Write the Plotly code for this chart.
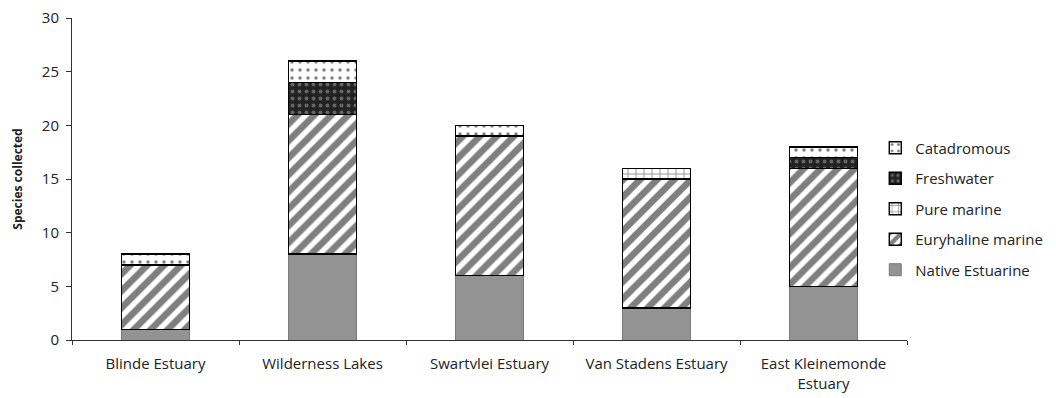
import plotly.graph_objects as go

categories = ["Blinde Estuary", "Wilderness Lakes", "Swartvlei Estuary",
              "Van Stadens Estuary", "East Kleinemonde<br>Estuary"]
native_estuarine = [1, 8, 6, 3, 5]
euryhaline_marine = [6, 13, 13, 12, 11]
pure_marine = [0, 0, 0, 1, 0]
freshwater = [0, 3, 0, 0, 1]
catadromous = [1, 2, 1, 0, 1]
y_ticks = [0, 5, 10, 15, 20, 25, 30]

series = [
    ("Native Estuarine", native_estuarine,
     dict(color="#939393", line=dict(color="#7a7a7a", width=1))),
    ("Euryhaline marine", euryhaline_marine,
     dict(color="white", line=dict(color="#000", width=1.4),
          pattern=dict(shape="/", fgcolor="#000", bgcolor="white", size=12, solidity=0.55))),
    ("Pure marine", pure_marine,
     dict(color="white", line=dict(color="#000", width=1.4),
          pattern=dict(shape="+", fgcolor="#111", bgcolor="white", size=8, solidity=0.2))),
    ("Freshwater", freshwater,
     dict(color="#222", line=dict(color="#000", width=1.4),
          pattern=dict(shape=".", fgcolor="#aaaaaa", bgcolor="#222", size=7, solidity=0.25))),
    ("Catadromous", catadromous,
     dict(color="white", line=dict(color="#000", width=1.4),
          pattern=dict(shape=".", fgcolor="#000", bgcolor="white", size=8, solidity=0.15))),
]

n = len(series)
fig = go.Figure()
for i, (name, vals, marker) in enumerate(series):
    fig.add_trace(go.Bar(x=categories, y=vals, name=name, marker=marker,
                         legendgroup=name, legendrank=n - i))

fig.update_layout(
    barmode="stack",
    bargap=0.59,
    width=1056, height=398,
    margin=dict(l=64, r=157, t=10, b=66),
    paper_bgcolor="white", plot_bgcolor="white",
    font=dict(family="Open Sans, sans-serif", size=15, color="#222"),
    showlegend=True,
    legend=dict(traceorder="grouped", x=0.962, xanchor="left", y=0.407,
                yanchor="middle", font=dict(size=15), itemwidth=30, tracegroupgap=8),
    xaxis=dict(showline=True, linecolor="#333", linewidth=1, ticks="outside",
               tickson="boundaries", ticklen=4, tickcolor="#333", ticklabelstandoff=10,
               showgrid=False, tickfont=dict(size=15), automargin=False),
    yaxis=dict(range=[0, 30], tickvals=y_ticks, showline=True, linecolor="#333",
               linewidth=1, ticks="outside", ticklen=5, tickcolor="#333",
               ticklabeloverflow="allow", ticklabelstandoff=4,
               showgrid=False, zeroline=False, tickfont=dict(size=15), automargin=False,
               title=dict(text="<b>Species collected</b>", font=dict(size=12), standoff=16)),
)

fig.write_html("out.html")
